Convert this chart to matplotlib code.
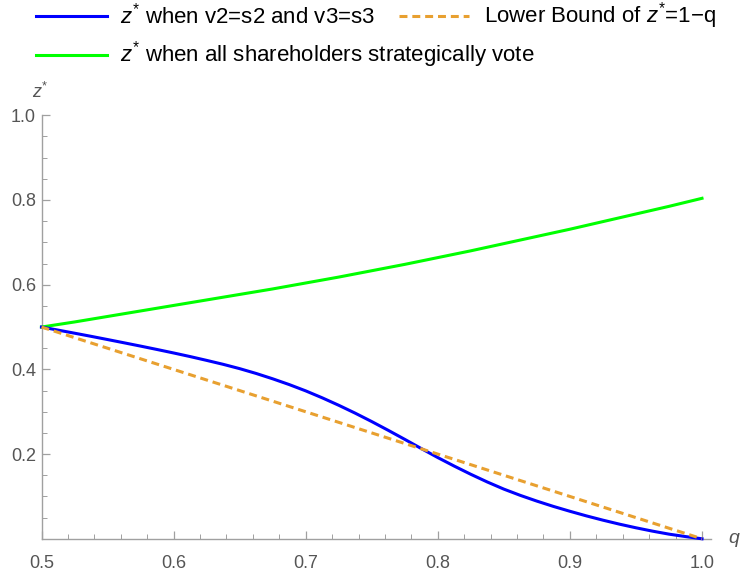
import matplotlib
matplotlib.use("Agg")
import matplotlib.pyplot as plt
from matplotlib.lines import Line2D
from matplotlib.ticker import MultipleLocator, FixedLocator

plt.rcParams['font.family'] = ['Liberation Sans', 'DejaVu Sans']
plt.rcParams['mathtext.fontset'] = 'custom'
plt.rcParams['mathtext.rm'] = 'Liberation Sans'
plt.rcParams['mathtext.it'] = 'Liberation Sans:italic'

# ---- data ----
q_fine = [0.5000, 0.5125, 0.5250, 0.5375, 0.5500, 0.5625, 0.5750, 0.5875, 0.6000, 0.6125,
          0.6250, 0.6375, 0.6500, 0.6625, 0.6750, 0.6875, 0.7000, 0.7125, 0.7250, 0.7375,
          0.7500, 0.7625, 0.7750, 0.7875, 0.8000, 0.8125, 0.8250, 0.8375, 0.8500, 0.8625,
          0.8750, 0.8875, 0.9000, 0.9125, 0.9250, 0.9375, 0.9500, 0.9625, 0.9750, 0.9875,
          1.0000]
z_sincere = [0.5000, 0.4928, 0.4855, 0.4781, 0.4705, 0.4628, 0.4550, 0.4470, 0.4388, 0.4303,
             0.4213, 0.4120, 0.4018, 0.3904, 0.3778, 0.3642, 0.3493, 0.3329, 0.3153, 0.2966,
             0.2768, 0.2561, 0.2348, 0.2131, 0.1918, 0.1716, 0.1523, 0.1341, 0.1173, 0.1025,
             0.0890, 0.0765, 0.0650, 0.0541, 0.0440, 0.0346, 0.0260, 0.0181, 0.0110, 0.0053,
             0.0000]
q = [0.500, 0.525, 0.550, 0.575, 0.600, 0.625, 0.650, 0.675, 0.700, 0.725, 0.750,
     0.775, 0.800, 0.825, 0.850, 0.875, 0.900, 0.925, 0.950, 0.975, 1.000]
z_strategic = [0.500, 0.512, 0.525, 0.538, 0.551, 0.564, 0.577, 0.590, 0.604, 0.618, 0.633,
               0.648, 0.664, 0.680, 0.697, 0.714, 0.731, 0.749, 0.767, 0.785, 0.804]
q_bound = [0.5, 1.0]
z_bound = [0.5, 0.0]

label_sincere = r"$\mathit{z}^{*}$ when v2=s2 and v3=s3"
label_bound = r"Lower Bound of $\mathit{z}^{*}$=1$-$q"
label_strategic = r"$\mathit{z}^{*}$ when all shareholders strategically vote"

x_major = [0.5, 0.6, 0.7, 0.8, 0.9, 1.0]
y_major = [0.2, 0.4, 0.6, 0.8, 1.0]

BLUE = '#0000FF'
GREEN = '#00FF00'
ORANGE = '#E8A030'
AXIS = '#A0A0A0'
TXT = '#555555'

W, H = 742, 571
fig = plt.figure(figsize=(W / 100, H / 100), dpi=100)
x0px, x1px = 41.5, 702.0
y0px, y1px = 538.8, 115.3
xmax = 1.0065
width = (x1px - x0px) / 0.5 * (xmax - 0.5)
ax = fig.add_axes([x0px / W, (H - y0px) / H, width / W, (y0px - y1px) / H])
ax.set_xlim(0.5, xmax)
ax.set_ylim(0, 1.0)

lw = 2.2
ax.plot(q, z_strategic, color=GREEN, lw=lw, clip_on=False, zorder=3)
ax.plot(q_bound, z_bound, color=ORANGE, lw=lw, dashes=(2.6, 1.6), clip_on=False, zorder=4)
ax.plot(q_fine, z_sincere, color=BLUE, lw=lw, clip_on=False, zorder=3)

for s in ['top', 'right']:
    ax.spines[s].set_visible(False)
for s in ['left', 'bottom']:
    ax.spines[s].set_color(AXIS)
    ax.spines[s].set_linewidth(1.0)

ax.xaxis.set_major_locator(FixedLocator(x_major))
ax.xaxis.set_minor_locator(MultipleLocator(0.02))
ax.yaxis.set_major_locator(FixedLocator(y_major))
ax.yaxis.set_minor_locator(MultipleLocator(0.05))
ax.set_xticklabels([f"{v:.1f}" for v in x_major])
ax.set_yticklabels([f"{v:.1f}" for v in y_major])
ax.tick_params(which='major', direction='in', length=6, width=0.9, color=AXIS,
               labelsize=13, labelcolor=TXT)
ax.tick_params(axis='x', which='major', pad=12)
ax.tick_params(axis='y', which='major', pad=4)
ax.tick_params(which='minor', direction='in', length=3.5, width=0.7, color=AXIS)

fig.text(49 / W, (H - 92) / H, r"$\mathit{z}^{*}$", color=TXT, fontsize=13,
         ha='right', va='center')
fig.text(728 / W, (H - 540) / H, r"$\mathit{q}$", color=TXT, fontsize=14,
         ha='left', va='center')

# legend (manual)
fs = 16
def leg_item(xa, xb, y, color, dashes, txt_x, text):
    kw = dict(color=color, lw=lw, transform=fig.transFigure)
    if dashes:
        kw['dashes'] = dashes
    fig.add_artist(Line2D([xa / W, xb / W], [(H - y) / H] * 2, **kw))
    fig.text(txt_x / W, (H - y) / H, text, fontsize=fs, color='black', va='center', ha='left')

leg_item(36, 107, 16, BLUE, None, 120, label_sincere)
leg_item(399, 469, 16, ORANGE, (2.6, 1.6), 484, label_bound)
leg_item(36, 107, 55, GREEN, None, 120, label_strategic)

fig.savefig("out.png", dpi=100)
